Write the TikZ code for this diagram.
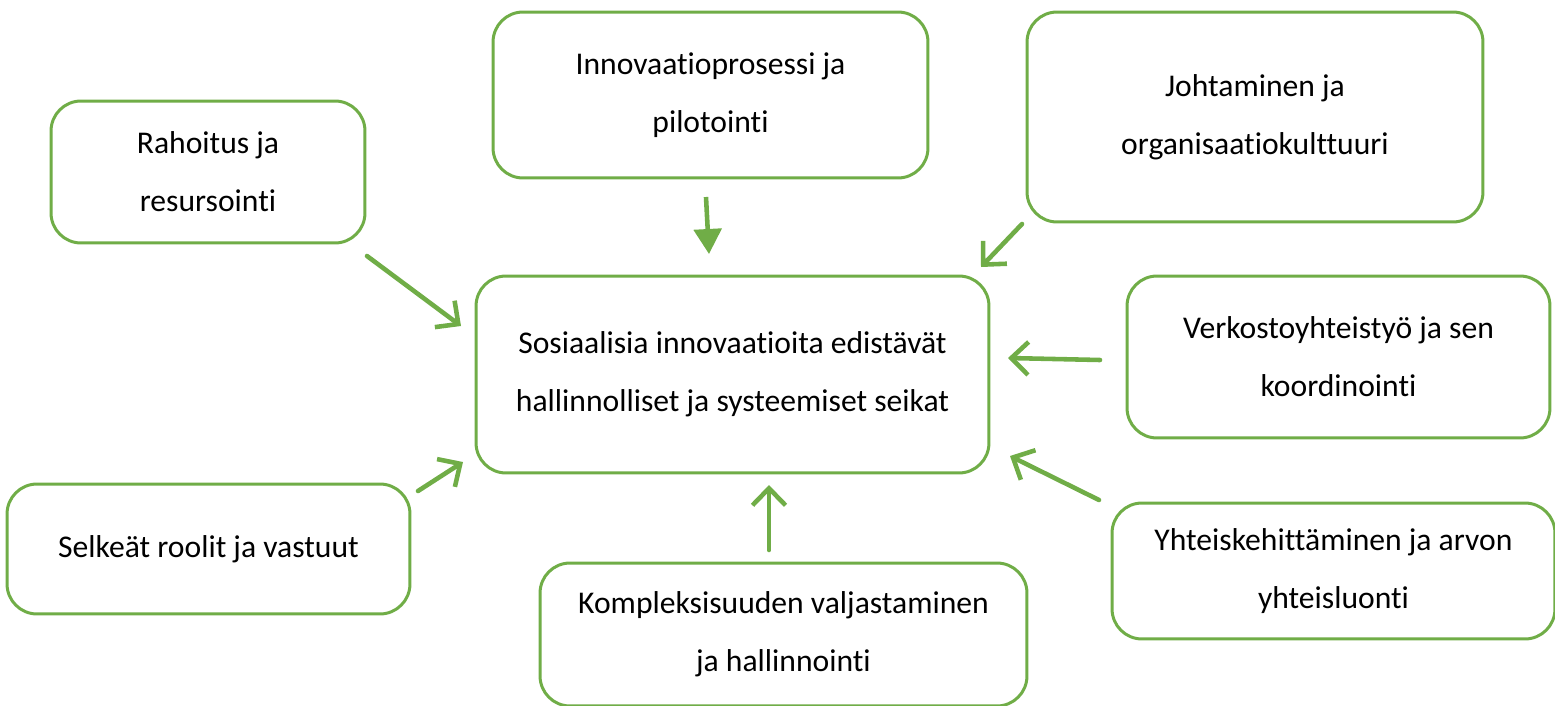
\documentclass[tikz,border=0pt]{standalone}
\usepackage{fontspec}
\setmainfont{Carlito}[Ligatures=NoCommon]
\usepackage{xcolor}
\usepackage{tikz}
\usetikzlibrary{shapes, arrows.meta, calc}
\definecolor{leafgreen}{HTML}{70AD47}
\tikzstyle{topic} = [rectangle, draw=leafgreen, line width=1.7pt, rounded corners=0.6cm,
    fill=white, align=center, font=\fontsize{18}{33}\selectfont, inner sep=0pt]
\tikzstyle{line} = [draw=leafgreen, line width=2.6pt, line cap=round,
    -{Straight Barb[length=0.34cm, width=0.66cm, line width=2.6pt]}]
\tikzstyle{fline} = [draw=leafgreen, line width=2.6pt,
    -{Triangle[length=0.5cm, width=0.55cm]}]

\begin{document}
\begin{tikzpicture}[x=0.02cm, y=-0.02cm]
    \useasboundingbox (0,0) rectangle (1555,706);
    % Nodes
    \node [topic, minimum width=10.26cm, minimum height=3.94cm] (core) at (732.5,374.5)
        {Sosiaalisia innovaatioita edistävät\\hallinnolliset ja systeemiset seikat};
    \node [topic, minimum width=6.28cm, minimum height=2.84cm] (rahoitus) at (208,172)
        {Rahoitus ja\\resursointi};
    \node [topic, minimum width=8.7cm, minimum height=3.32cm] (innovaatio) at (710.5,95)
        {Innovaatioprosessi ja\\pilotointi};
    \node [topic, minimum width=9.12cm, minimum height=4.2cm] (johtaminen) at (1255,117)
        {Johtaminen ja\\organisaatiokulttuuri};
    \node [topic, minimum width=8.46cm, minimum height=3.24cm] (verkosto) at (1338.5,357)
        {Verkostoyhteistyö ja sen\\koordinointi};
    \node [topic, minimum width=8.06cm, minimum height=2.6cm] (selkeat) at (208.5,549)
        {Selkeät roolit ja vastuut};
    \node [topic, minimum width=9.74cm, minimum height=2.86cm] (kompleksi) at (783.5,634.5)
        {Kompleksisuuden valjastaminen\\ja hallinnointi};
    \node [topic, minimum width=8.86cm, minimum height=2.72cm] (yhteis) at (1333.5,571)
        {Yhteiskehittäminen ja arvon\\yhteisluonti};

    % Arrow ends
    \coordinate (rahoitusA) at (367,256);   \coordinate (rahoitusB) at (461,326);
    \coordinate (innovaatioA) at (706,197); \coordinate (innovaatioB) at (709,254);
    \coordinate (johtaminenA) at (1022,224); \coordinate (johtaminenB) at (981,267);
    \coordinate (verkostoA) at (1100,360);  \coordinate (verkostoB) at (1008,358);
    \coordinate (yhteisA) at (1099,500);    \coordinate (yhteisB) at (1010,456);
    \coordinate (kompleksiA) at (769,550);  \coordinate (kompleksiB) at (769,485);
    \coordinate (selkeatA) at (418,491);    \coordinate (selkeatB) at (463,462);

    % Edges
    \path [line] (rahoitusA) -- (rahoitusB);
    \path [fline] (innovaatioA) -- (innovaatioB);
    \path [line] (johtaminenA) -- (johtaminenB);
    \path [line] (verkostoA) -- (verkostoB);
    \path [line] (yhteisA) -- (yhteisB);
    \path [line] (kompleksiA) -- (kompleksiB);
    \path [line] (selkeatA) -- (selkeatB);
\end{tikzpicture}
\end{document}
